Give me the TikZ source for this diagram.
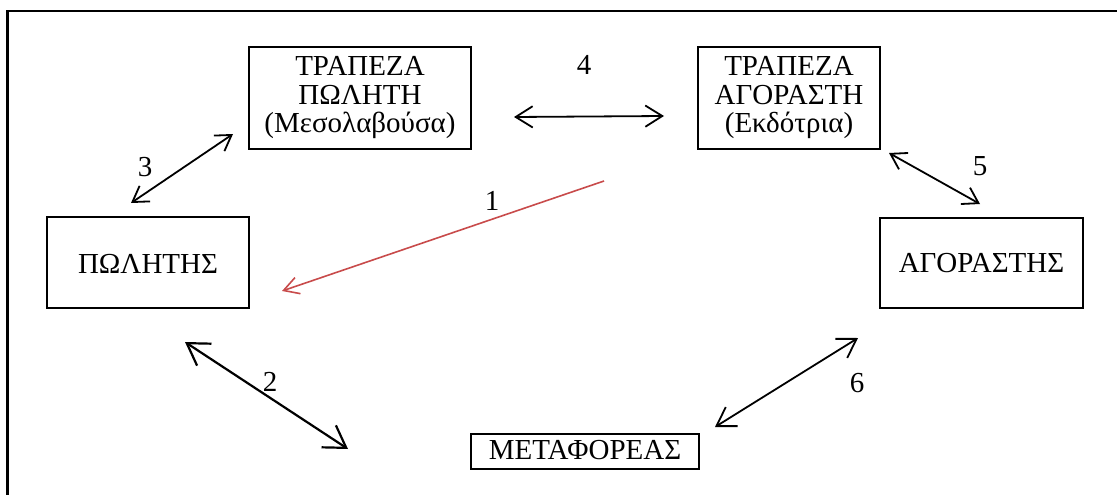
\documentclass[tikz,border=0pt]{standalone}
\usepackage{fontspec}
\setmainfont{Liberation Serif}
\usetikzlibrary{arrows.meta}
\definecolor{redarrow}{RGB}{200,75,75}
\begin{document}
\begin{tikzpicture}[x=1pt,y=-1pt,
  every node/.style={font=\fontsize{29pt}{28.5pt}\selectfont},
  box/.style={draw, line width=2.1pt, inner sep=0pt},
  num/.style={inner sep=0pt},
  link/.style={line width=1.8pt,
    {Straight Barb[length=#1pt,width=#1pt*1.25]}-{Straight Barb[length=#1pt,width=#1pt*1.25]}},
  link/.default=15,
  oneway/.style={redarrow, line width=1.6pt, -{Straight Barb[length=15pt,width=17pt]}}]
\useasboundingbox (0,0) rectangle (1117,495);
\draw[line width=2.2pt] (1118,11) -- (7.5,11) -- (7.5,496);

% boxes
\node[box, minimum width=222pt, minimum height=102pt, align=center] (bankS) at (360,98)
  {ΤΡΑΠΕΖΑ\\ΠΩΛΗΤΗ\\(Μεσολαβούσα)};
\node[box, minimum width=182pt, minimum height=102pt, align=center] (bankB) at (789,98)
  {ΤΡΑΠΕΖΑ\\ΑΓΟΡΑΣΤΗ\\(Εκδότρια)};
\node[box, minimum width=202pt, text height=56pt, text depth=35pt, anchor=base] (seller) at (148,273) {ΠΩΛΗΤΗΣ};
\node[box, minimum width=203pt, text height=54pt, text depth=36pt, anchor=base] (buyer) at (981.5,272) {ΑΓΟΡΑΣΤΗΣ};
\node[box, minimum width=228pt, text height=25pt, text depth=10pt, anchor=base] (carrier) at (585,459) {ΜΕΤΑΦΟΡΕΑΣ};

% connector end points
\coordinate (a3s) at (131,203); \coordinate (a3e) at (233,134);
\coordinate (a4s) at (514,117); \coordinate (a4e) at (664,116);
\coordinate (a5s) at (889,153); \coordinate (a5e) at (980,204);
\coordinate (a6s) at (715,427); \coordinate (a6e) at (858,338);
\coordinate (a2s) at (185,342); \coordinate (a2e) at (348,449);
\coordinate (a1s) at (604,181); \coordinate (a1e) at (282,291);

\draw[link=15] (a3s) -- (a3e);
\draw[link=17] (a4s) -- (a4e);
\draw[link=15] (a5s) -- (a5e);
\draw[link=18] (a6s) -- (a6e);
\draw[link=21, line width=2.2pt] (a2s) -- (a2e);
\draw[oneway] (a1s) -- (a1e);

% labels
\node[num] (n1) at (492,201) {1};
\node[num] (n2) at (270,382) {2};
\node[num] (n3) at (145,167) {3};
\node[num] (n4) at (584,65) {4};
\node[num] (n5) at (980,166) {5};
\node[num] (n6) at (857,383) {6};
\end{tikzpicture}
\end{document}
